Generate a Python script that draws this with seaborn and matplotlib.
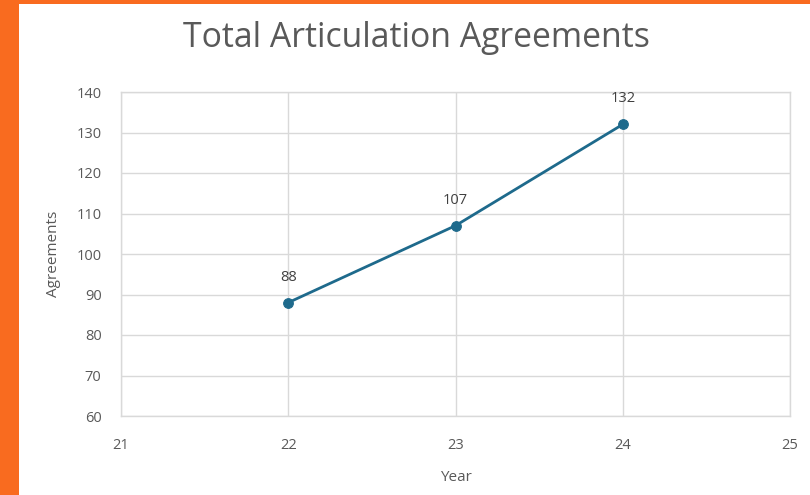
import matplotlib
matplotlib.use("Agg")
import matplotlib.pyplot as plt
import seaborn as sns
import pandas as pd
from matplotlib.patches import Rectangle

years = [22, 23, 24]
agreements = [88, 107, 132]
x_ticks = [21, 22, 23, 24, 25]
y_ticks = [60, 70, 80, 90, 100, 110, 120, 130, 140]

sns.set_theme(style="white")
plt.rcParams['font.family'] = ['Open Sans', 'DejaVu Sans']

df = pd.DataFrame({"Year": years, "Agreements": agreements})

W, H = 810, 495
fig = plt.figure(figsize=(W / 100, H / 100), dpi=100)
fig.patch.set_facecolor('#F96B1F')
fig.add_artist(Rectangle((19 / W, 0), 1 - 19 / W, (H - 4) / H, transform=fig.transFigure,
                         facecolor='white', edgecolor='none', zorder=0))

ax = fig.add_axes([121 / W, 1 - 416 / H, (790 - 121) / W, (416 - 92) / H])
ax.set_facecolor('white')
line_color = '#1E6A8C'
sns.lineplot(data=df, x="Year", y="Agreements", ax=ax, color=line_color, linewidth=2,
             marker='o', markersize=7, markeredgecolor=line_color, zorder=3)

for x, y in zip(years, agreements):
    ax.annotate(str(y), (x, y), xytext=(0, 13), textcoords='offset points',
                ha='center', va='bottom', fontsize=10.5, color='#404040')

ax.set_xlim(21, 25)
ax.set_ylim(60, 140)
ax.set_xticks(x_ticks)
ax.set_yticks(y_ticks)
ax.grid(True, color='#D9D9D9', linewidth=1)
for s in ax.spines.values():
    s.set_color('#D9D9D9')
    s.set_linewidth(1)
ax.tick_params(axis='x', length=0, labelsize=10.5, labelcolor='#595959', pad=16)
ax.tick_params(axis='y', length=0, labelsize=10.5, labelcolor='#595959', pad=14)
ax.set_xlabel("Year", fontsize=11, color='#595959', labelpad=12)
ax.set_ylabel("Agreements", fontsize=11, color='#595959', labelpad=11)

fig.text(416 / W, 1 - 38 / H, "Total Articulation Agreements", ha='center', va='center',
         fontsize=24.3, color='#595959')

fig.savefig("out.png", dpi=100, facecolor=fig.get_facecolor())
